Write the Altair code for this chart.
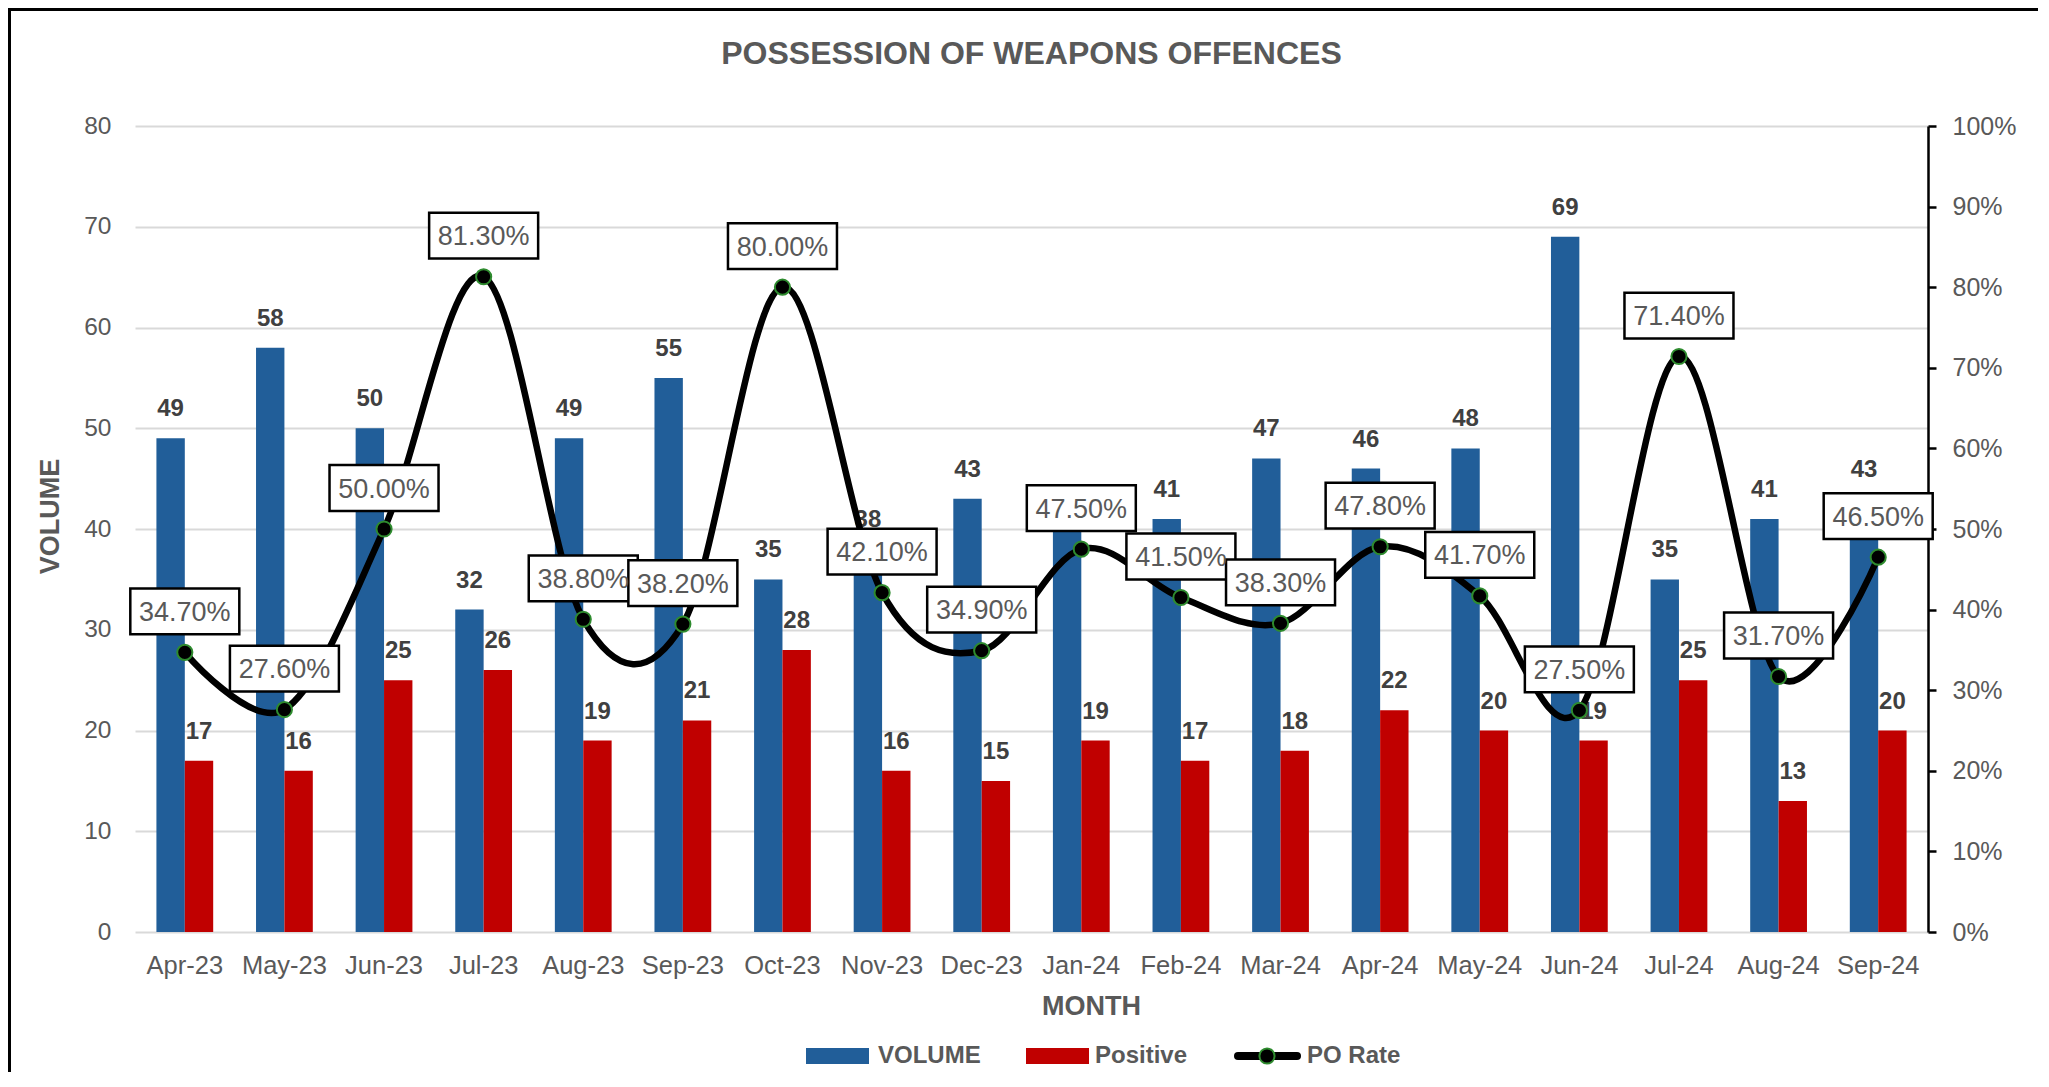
import altair as alt
import pandas as pd

months = ["Apr-23", "May-23", "Jun-23", "Jul-23", "Aug-23", "Sep-23", "Oct-23", "Nov-23", "Dec-23",
          "Jan-24", "Feb-24", "Mar-24", "Apr-24", "May-24", "Jun-24", "Jul-24", "Aug-24", "Sep-24"]
volume = [49, 58, 50, 32, 49, 55, 35, 38, 43, 40, 41, 47, 46, 48, 69, 35, 41, 43]
positive = [17, 16, 25, 26, 19, 21, 28, 16, 15, 19, 17, 18, 22, 20, 19, 25, 13, 20]
po_rate = [0.347, 0.276, 0.500, 0.813, 0.388, 0.382, 0.800, 0.421, 0.349,
           0.475, 0.415, 0.383, 0.478, 0.417, 0.275, 0.714, 0.317, 0.465]
series_names = ["VOLUME", "Positive", "PO Rate"]
series_colors = ["#215E99", "#C00000", "#000000"]
left_ticks = [0, 10, 20, 30, 40, 50, 60, 70, 80]
right_ticks = [0, 0.1, 0.2, 0.3, 0.4, 0.5, 0.6, 0.7, 0.8, 0.9, 1.0]
title_text = "POSSESSION  OF WEAPONS OFFENCES"

FONT = "Liberation Sans"
GRAY = "#595959"
DOT_STROKE = "#2E8B2E"
W, H = 1793, 806

bars_df = pd.DataFrame({
    "month": months * 2,
    "series": ["VOLUME"] * len(months) + ["Positive"] * len(months),
    "value": volume + positive,
})
rate_df = pd.DataFrame({"month": months, "rate": po_rate})
legend_df = pd.DataFrame({"series": series_names})
one_df = pd.DataFrame({"a": [0]})

x_enc = alt.X("month:N", sort=months,
              scale=alt.Scale(paddingInner=0.43, paddingOuter=0.215),
              axis=alt.Axis(title="MONTH", labelAngle=0, labelFontSize=25.5, labelColor=GRAY,
                            labelPadding=21, ticks=False, domain=False, grid=False,
                            titleFontSize=27, titleFontWeight="bold", titleColor=GRAY,
                            titleX=956, titleY=74, titleBaseline="middle", titleAlign="center"))
xoff = alt.XOffset("series:N", sort=["VOLUME", "Positive"],
                   scale=alt.Scale(domain=["VOLUME", "Positive"], paddingInner=0, paddingOuter=0))
y_left = alt.Y("value:Q", scale=alt.Scale(domain=[0, 80], nice=False),
               axis=alt.Axis(values=left_ticks, title="VOLUME", grid=True, gridColor="#D9D9D9",
                             gridWidth=2, domain=False, ticks=False, labelFontSize=24.5,
                             labelColor=GRAY, labelPadding=24, titleFontSize=27,
                             titleFontWeight="bold", titleColor=GRAY, titleAngle=270,
                             titleX=-85, titleY=390, titleAlign="center",
                             titleBaseline="middle"))
y_right = alt.Y("rate:Q", scale=alt.Scale(domain=[0, 1], nice=False),
                axis=alt.Axis(orient="right", values=right_ticks, format=".0%", title=None,
                              grid=False, domain=True, domainColor="black", domainWidth=2.5,
                              ticks=True, tickColor="black", tickWidth=2.5, tickSize=8,
                              labelFontSize=25, labelColor=GRAY, labelPadding=16))

bars = alt.Chart(bars_df).mark_bar().encode(
    x=x_enc, xOffset=xoff, y=y_left,
    color=alt.Color("series:N", scale=alt.Scale(domain=series_names, range=series_colors),
                    legend=None),
)
bar_labels = alt.Chart(bars_df).mark_text(
    fontSize=24, fontWeight="bold", color="#404040", dy=-22, baseline="alphabetic",
    align="center", font=FONT
).encode(x=x_enc, xOffset=xoff, y=y_left, text=alt.Text("value:Q"))

# ---- legend (drawn below the plot, positions in pixels relative to the plot origin)
LEG_Y = 930
leg_swatch_x = [671, 891]          # left edges of the two bar swatches
leg_label_x = [743, 960, 1172]     # left edges of the three labels
legend_layers = []
for i, name in enumerate(series_names[:2]):
    legend_layers.append(
        alt.Chart(legend_df).transform_filter(alt.datum.series == name).mark_rect(
            color=series_colors[i]
        ).encode(x=alt.value(leg_swatch_x[i]), x2=alt.value(leg_swatch_x[i] + 63),
                 y=alt.value(LEG_Y - 8), y2=alt.value(LEG_Y + 8))
    )
legend_layers.append(
    alt.Chart(legend_df).transform_filter(alt.datum.series == "PO Rate").mark_rule(
        color="black", strokeWidth=8, strokeCap="round"
    ).encode(x=alt.value(1103), x2=alt.value(1162), y=alt.value(LEG_Y))
)
legend_layers.append(
    alt.Chart(legend_df).transform_filter(alt.datum.series == "PO Rate").mark_circle(
        size=230, color="black", opacity=1, stroke=DOT_STROKE, strokeWidth=2
    ).encode(x=alt.value(1132), y=alt.value(LEG_Y))
)
for i, name in enumerate(series_names):
    legend_layers.append(
        alt.Chart(legend_df).transform_filter(alt.datum.series == name).mark_text(
            fontSize=24, fontWeight="bold", color=GRAY, font=FONT, align="left",
            baseline="middle"
        ).encode(x=alt.value(leg_label_x[i]), y=alt.value(LEG_Y), text="series:N")
    )

title_mark = alt.Chart(one_df).mark_text(
    text=title_text, fontSize=32, fontWeight="bold", color=GRAY, font=FONT,
    align="center", baseline="middle"
).encode(x=alt.value(W / 2), y=alt.value(-72))

border_left = alt.Chart(one_df).mark_rule(color="black", strokeWidth=3).encode(
    x=alt.value(-125.5), y=alt.value(-117), y2=alt.value(955))
border_top = alt.Chart(one_df).mark_rule(color="black", strokeWidth=3).encode(
    y=alt.value(-116.5), x=alt.value(-127), x2=alt.value(1910))

line = alt.Chart(rate_df).mark_line(interpolate="cardinal", color="black", strokeWidth=6.5).encode(
    x=x_enc, y=y_right)
points = alt.Chart(rate_df).mark_circle(size=230, color="black", opacity=1, stroke=DOT_STROKE,
                                        strokeWidth=2).encode(x=x_enc, y=y_right)
boxes = alt.Chart(rate_df).mark_point(
    shape="M-1,-0.42H1V0.42H-1Z", size=109 * 109, filled=True, fill="white", fillOpacity=1,
    stroke="black", strokeWidth=2.5, strokeOpacity=1, opacity=1, yOffset=-41
).encode(x=x_enc, y=y_right)
box_text = alt.Chart(rate_df).mark_text(
    fontSize=27, color=GRAY, dy=-31.5, baseline="alphabetic", align="center", font=FONT
).encode(x=x_enc, y=y_right, text=alt.Text("rate:Q", format=".2%"))

left = alt.layer(bars, bar_labels, title_mark, border_left, border_top, *legend_layers)
right = alt.layer(line, points, boxes, box_text)

chart = alt.layer(left, right).resolve_scale(y="independent").properties(
    width=W, height=H,
    autosize=alt.AutoSizeParams(type="none"),
    padding={"left": 127, "top": 118, "right": 110, "bottom": 140},
).configure(font=FONT).configure_view(stroke=None)

chart.save("out.html", embed_options={"renderer": "svg", "actions": False})
